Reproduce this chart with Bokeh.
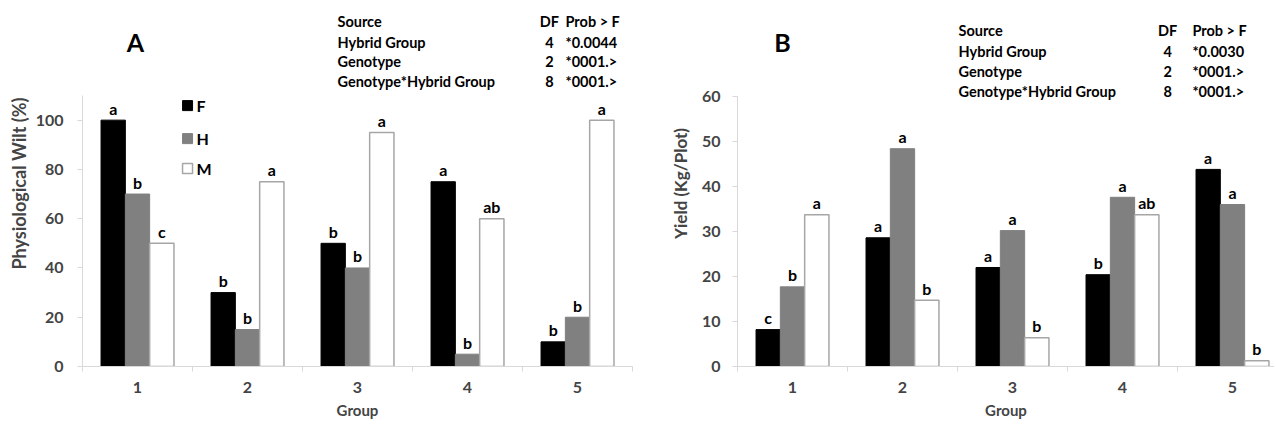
from bokeh.plotting import figure
from bokeh.models import FixedTicker, Label, ColumnDataSource
from bokeh.layouts import row
from bokeh.embed import file_html
from bokeh.resources import INLINE
from bokeh.core.properties import value

# ---------------- data ----------------
groups = ["1", "2", "3", "4", "5"]
series = ["F", "H", "M"]

wilt_F = [100, 30, 50, 75, 10]
wilt_H = [70, 15, 40, 5, 20]
wilt_M = [50, 75, 95, 60, 100]
wilt_let_F = ["a", "b", "b", "a", "b"]
wilt_let_H = ["b", "b", "b", "b", "b"]
wilt_let_M = ["c", "a", "a", "ab", "a"]
wilt_ticks = [0, 20, 40, 60, 80, 100]

yield_F = [8.2, 28.6, 22.0, 20.4, 43.8]
yield_H = [17.7, 48.4, 30.2, 37.6, 36.0]
yield_M = [33.7, 14.7, 6.4, 33.7, 1.3]
yield_let_F = ["c", "a", "a", "b", "a"]
yield_let_H = ["b", "a", "a", "a", "a"]
yield_let_M = ["a", "b", "b", "ab", "b"]
yield_ticks = [0, 10, 20, 30, 40, 50, 60]

table_sources = ["Source", "Hybrid Group", "Genotype", "Genotype*Hybrid Group"]
table_df = ["DF", "4", "2", "8"]
table_prob_A = ["Prob > F", "*0.0044", "*0001.>", "*0001.>"]
table_prob_B = ["Prob > F", "*0.0030", "*0001.>", "*0001.>"]

FONT = "Lato"
AXIS_C = "#d9d9d9"
COLORS = {"F": "#000000", "H": "#808080", "M": "#ffffff"}
LINES = {"F": "#000000", "H": "#808080", "M": "#a6a6a6"}
BAR_W = 0.221
OFFS = {"F": -BAR_W, "H": 0.0, "M": BAR_W}
H = 424


def panel(vals, lets, yticks, ymax, yend, x_end, width, bl, br, bb, ylabel,
          ylab_standoff, ytitle_standoff, ytitle_size):
    p = figure(width=width, height=H, x_range=(0, x_end), y_range=(0, yend),
               output_backend="svg", toolbar_location=None,
               min_border_left=bl, min_border_right=br,
               min_border_top=0, min_border_bottom=bb)
    p.outline_line_color = None
    p.xgrid.grid_line_color = None
    p.ygrid.grid_line_color = None
    p.background_fill_color = "white"

    for s in series:
        xs = [i + 0.5 + OFFS[s] for i in range(len(groups))]
        src = ColumnDataSource(dict(x=xs, top=vals[s], let=lets[s]))
        p.vbar(x="x", top="top", bottom=0, width=BAR_W, source=src,
               fill_color=COLORS[s], line_color=LINES[s],
               line_width=1.5 if s == "M" else 1)
        p.text(x="x", y="top", text="let", source=src,
               text_font=value(FONT), text_font_style="bold",
               text_font_size="16px", text_align="center",
               text_baseline="alphabetic", y_offset=-12, text_color="#000000")

    # x axis: labels at group centres, tick marks at category boundaries
    xa = p.xaxis[0]
    xa.ticker = FixedTicker(ticks=[i + 0.5 for i in range(len(groups))],
                            minor_ticks=list(range(len(groups) + 1)))
    xa.major_label_overrides = {i + 0.5: g for i, g in enumerate(groups)}
    xa.major_tick_out = 0
    xa.major_tick_in = 0
    xa.minor_tick_out = 5
    xa.minor_tick_in = 0
    xa.minor_tick_line_color = AXIS_C
    xa.axis_line_color = AXIS_C
    xa.major_label_text_font = FONT
    xa.major_label_text_font_style = "bold"
    xa.major_label_text_font_size = "16px"
    xa.major_label_standoff = 10
    xa.axis_label = "Group"
    xa.axis_label_text_font = FONT
    xa.axis_label_text_font_style = "bold"
    xa.axis_label_text_font_size = "15px"
    xa.axis_label_standoff = 5

    ya = p.yaxis[0]
    ya.bounds = (0, ymax)
    ya.ticker = FixedTicker(ticks=yticks, minor_ticks=[])
    ya.major_tick_out = 5
    ya.major_tick_in = 0
    ya.major_tick_line_color = AXIS_C
    ya.axis_line_color = AXIS_C
    ya.major_label_text_font = FONT
    ya.major_label_text_font_style = "bold"
    ya.major_label_text_font_size = "16px"
    ya.major_label_standoff = ylab_standoff
    ya.axis_label = ylabel
    ya.axis_label_text_font = FONT
    ya.axis_label_text_font_style = "bold"
    ya.axis_label_text_font_size = ytitle_size
    ya.axis_label_standoff = ytitle_standoff
    return p


def add_text(p, x, y, text, size="14.5px", align="left"):
    p.add_layout(Label(x=x, y=y, text=text, x_units="data", y_units="data",
                       text_font=FONT, text_font_style="bold",
                       text_font_size=size, text_align=align,
                       text_baseline="middle", text_color="#000000"))


def add_table(p, x_src, x_df, x_prob, ys, probs):
    for i in range(4):
        add_text(p, x_src, ys[i], table_sources[i])
        add_text(p, x_df, ys[i], table_df[i], align="center")
        add_text(p, x_prob, ys[i], probs[i])


# ---------------- panel A ----------------
# frame: page x 82..632, y 0..366 ; 110 px per group, 2.4636 px per %
pa = panel({"F": wilt_F, "H": wilt_H, "M": wilt_M},
           {"F": wilt_let_F, "H": wilt_let_H, "M": wilt_let_M},
           wilt_ticks, 110, 148.56, 5, 648, 82, 16, H - 366,
           "Physiological Wilt (%)", 14, 3, "18px")
add_text(pa, 0.482, 131.9, "A", size="25px", align="center")
add_table(pa, 2.318, 4.245, 4.391, [140.2, 131.7, 123.6, 115.5], table_prob_A)

# legend (panel A)
leg_y = [105.9, 92.5, 80.4]
for s, yy in zip(series, leg_y):
    pa.scatter(x=[0.955], y=[yy], marker="square", size=10,
               fill_color=COLORS[s], line_color=LINES[s],
               line_width=1.5 if s == "M" else 1)
    pa.text(x=[1.036], y=[yy], text=[s], text_font=value(FONT),
            text_font_style="bold", text_font_size="16px",
            text_baseline="middle", text_align="left")

# ---------------- panel B ----------------
# frame: page x 737..1274, y 0..366 ; 110 px per group, 4.5 px per kg
pb = panel({"F": yield_F, "H": yield_H, "M": yield_M},
           {"F": yield_let_F, "H": yield_let_H, "M": yield_let_M},
           yield_ticks, 60, 81.33, 4.882, 626, 89, 0, H - 366,
           "Yield (Kg/Plot)", 12, 8, "17px")
add_text(pb, 0.409, 72.0, "B", size="25px", align="center")
add_table(pb, 2.009, 3.91, 4.136, [74.56, 70.0, 65.56, 61.11], table_prob_B)

layout = row(pa, pb)
open("out.html", "w").write(file_html(layout, INLINE))
